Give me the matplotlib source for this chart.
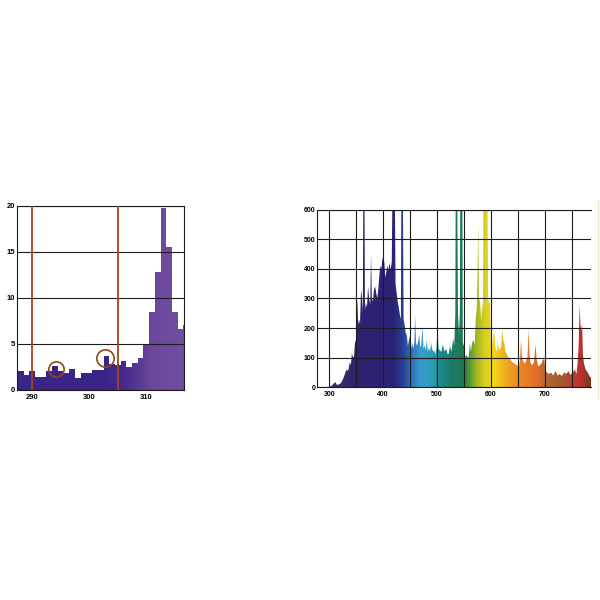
import matplotlib.pyplot as plt
import numpy as np
from matplotlib.colors import LinearSegmentedColormap
from matplotlib.lines import Line2D

plt.rcParams['font.family'] = ['Liberation Sans', 'DejaVu Sans']

# left panel: UV part, 1 nm bins
uv_nm = [288, 289, 290, 291, 292, 293, 294, 295, 296, 297,
         298, 299, 300, 301, 302, 303, 304, 305, 306, 307,
         308, 309, 310, 311, 312, 313, 314, 315, 316, 317]
uv_val = [2.1, 1.6, 2.1, 1.4, 1.4, 2.1, 2.6, 2.1, 1.8, 2.3,
          1.3, 1.8, 1.8, 2.2, 2.2, 3.65, 2.8, 2.7, 3.2, 2.5,
          2.9, 3.45, 4.9, 8.5, 12.8, 19.8, 15.5, 8.5, 6.6, 7.1]
uv_marks = [290, 305]
circ_x = [294.1, 302.7]
circ_y = [2.3, 3.5]
circ_size = [11, 12.5]

# right panel: full lamp spectrum (lines above 600 are cut by the frame)
spec_nm = [290, 298, 304, 308, 311, 314, 318, 322, 326, 329,
           332, 335, 338, 340, 342, 344, 346, 348, 349.5, 350.5,
           352, 353.5, 355, 357, 359, 361, 362.3, 363.2, 365.2, 366.2,
           368, 370, 372, 374, 376, 377.5, 379, 381, 383, 385,
           387, 389, 391, 393, 395, 397, 398.5, 400, 402, 404,
           406, 408, 410, 412, 414, 416, 417.5, 421.5, 423, 425,
           427, 429, 431, 433, 433.8, 436.5, 438, 440, 442, 444,
           446, 448, 450, 452, 454, 456, 458, 459.5, 461, 463,
           465, 467, 469, 470.5, 473, 475, 477, 479, 481, 483,
           485, 487, 489, 491, 493, 495, 497, 499, 501, 503,
           505, 508, 511, 514, 517, 520, 522, 524, 527, 530,
           532, 534, 534.8, 537.5, 539, 541, 542.5, 543.3, 547, 548,
           550, 552, 554, 557, 559, 561, 563, 565, 568, 570,
           572, 574, 575.5, 576.5, 578, 580, 582, 584, 585.5, 586.3,
           593.5, 595, 597, 598.5, 600, 602, 605, 607, 609, 611,
           613, 615, 617, 619, 621, 623, 625, 627, 630, 633,
           636, 640, 644, 648, 652, 654, 656, 658, 661, 664,
           666, 668, 670, 672, 674, 677, 680, 683, 685, 688,
           691, 694, 697, 699.5, 701, 704, 708, 712, 716, 720,
           724, 728, 732, 736, 740, 744, 748, 752, 756, 759,
           761, 763, 765, 766.5, 768, 769.5, 771, 773, 776, 780,
           784, 790]
spec_val = [0, 0, 5, 12, 18, 8, 10, 15, 30, 45,
            60, 55, 85, 75, 115, 100, 105, 160, 150, 220,
            300, 210, 230, 215, 330, 300, 250, 700, 700, 260,
            285, 270, 340, 300, 280, 450, 300, 290, 330, 340,
            320, 300, 330, 380, 410, 400, 440, 420, 425, 370,
            390, 410, 395, 420, 395, 425, 700, 700, 350, 320,
            290, 270, 245, 230, 700, 700, 230, 210, 183, 175,
            140, 160, 175, 130, 150, 130, 150, 243, 150, 140,
            155, 178, 135, 140, 205, 130, 142, 125, 160, 120,
            135, 120, 150, 130, 120, 125, 110, 130, 205, 130,
            125, 120, 145, 120, 130, 110, 115, 140, 120, 165,
            140, 250, 700, 700, 245, 180, 260, 700, 700, 150,
            140, 100, 110, 100, 105, 150, 120, 150, 160, 140,
            235, 270, 400, 560, 300, 290, 222, 290, 250, 700,
            700, 300, 280, 300, 160, 130, 185, 175, 130, 120,
            155, 120, 135, 130, 195, 160, 150, 120, 110, 100,
            95, 85, 80, 75, 70, 90, 160, 100, 85, 80,
            95, 100, 195, 110, 80, 75, 85, 145, 95, 70,
            75, 80, 95, 90, 60, 50, 45, 50, 40, 55,
            40, 45, 38, 50, 45, 55, 42, 50, 60, 45,
            80, 140, 280, 210, 190, 215, 110, 80, 60, 50,
            35, 30]


def gradient_fill(ax, x, y, cmap, xlim, ylim):
    poly = ax.fill_between(x, 0, y, facecolor='none', edgecolor='none')
    img = ax.imshow(np.linspace(0, 1, 512).reshape(1, -1), cmap=cmap,
                    aspect='auto', origin='lower', zorder=1,
                    extent=[xlim[0], xlim[1], ylim[0], ylim[1]])
    img.set_clip_path(poly.get_paths()[0], transform=ax.transData)
    ax.set_xlim(xlim)
    ax.set_ylim(ylim)


def make_cmap(stops, lo, hi):
    return LinearSegmentedColormap.from_list(
        'c', [((w - lo) / (hi - lo), c) for w, c in stops])


fig = plt.figure(figsize=(6, 6), dpi=100)

# ---- left chart ----
ax1 = fig.add_axes([17.3 / 600, 1 - 390 / 600, 166.7 / 600, 184 / 600])
xl1 = (287.4, 316.6)
yl1 = (0, 20)
uv_x = np.column_stack([np.array(uv_nm) - 0.5, np.array(uv_nm) + 0.5]).ravel()
uv_y = np.repeat(uv_val, 2)
cm1 = make_cmap([(287.4, '#3a2486'), (303, '#3b2587'), (306, '#45298b'),
                 (309, '#5a3a95'), (311, '#6c489d'), (316.6, '#714ea0')], *xl1)
gradient_fill(ax1, uv_x, uv_y, cm1, xl1, yl1)

ax1.set_yticks([0, 5, 10, 15, 20])
ax1.set_xticks([290, 300, 310])
ax1.grid(axis='y', color='#1c1c1c', lw=0.8)
ax1.set_axisbelow(False)
for v in uv_marks:
    ax1.axvline(v, color='#a5431f', lw=1.3, zorder=3)
for cx, cy, s in zip(circ_x, circ_y, circ_size):
    ax1.plot(cx, cy, 'o', ms=s, mfc='none', mec='#8c4a1c', mew=1.2, zorder=4)
ax1.tick_params(length=0, labelsize=5.5, pad=1.5)
ax1.tick_params(axis='x', pad=3)
for lab in ax1.get_xticklabels() + ax1.get_yticklabels():
    lab.set_fontweight('bold')
for sp in ax1.spines.values():
    sp.set_color('#1c1c1c')
    sp.set_linewidth(0.8)

# ---- right chart ----
ax2 = fig.add_axes([317.3 / 600, 1 - 387.3 / 600, 273.7 / 600, 177.8 / 600])
xl2 = (277.7, 786)
yl2 = (0, 600)
cm2 = make_cmap([(277.7, '#3f2d5e'), (320, '#3b2a66'), (350, '#2e2270'),
                 (420, '#2a2378'), (435, '#2a3a90'), (450, '#2c6ab0'),
                 (470, '#3a9ad0'), (490, '#2aa0b8'), (505, '#1f8a8a'),
                 (530, '#1a7a68'), (550, '#1f7a50'), (560, '#4a9a38'),
                 (575, '#a8b820'), (590, '#d8d020'), (605, '#f2d818'),
                 (625, '#f0b020'), (650, '#ec8a20'), (690, '#e06a28'),
                 (700, '#b06a38'), (730, '#a65a30'), (755, '#b04030'),
                 (765, '#c83030'), (775, '#a03428'), (786, '#7a3828')], *xl2)
gradient_fill(ax2, spec_nm, spec_val, cm2, xl2, yl2)

ax2.set_xticks([300, 400, 500, 600, 700])
ax2.set_xticks([350, 450, 550, 650, 750], minor=True)
ax2.set_yticks([0, 100, 200, 300, 400, 500, 600])
ax2.grid(which='both', color='#1c1c1c', lw=0.8)
ax2.set_axisbelow(False)
ax2.tick_params(which='both', length=0, labelsize=5, pad=1.2)
ax2.tick_params(axis='x', pad=2.5)
for lab in ax2.get_xticklabels() + ax2.get_yticklabels():
    lab.set_fontweight('bold')
for sp in ax2.spines.values():
    sp.set_color('#1c1c1c')
    sp.set_linewidth(0.8)
ax2.spines['right'].set_visible(False)

fig.add_artist(Line2D([597.7 / 600, 597.7 / 600], [1 - 398 / 600, 1 - 200 / 600],
                      color='#efe6cc', lw=1))

plt.savefig('out.png', dpi=100)
